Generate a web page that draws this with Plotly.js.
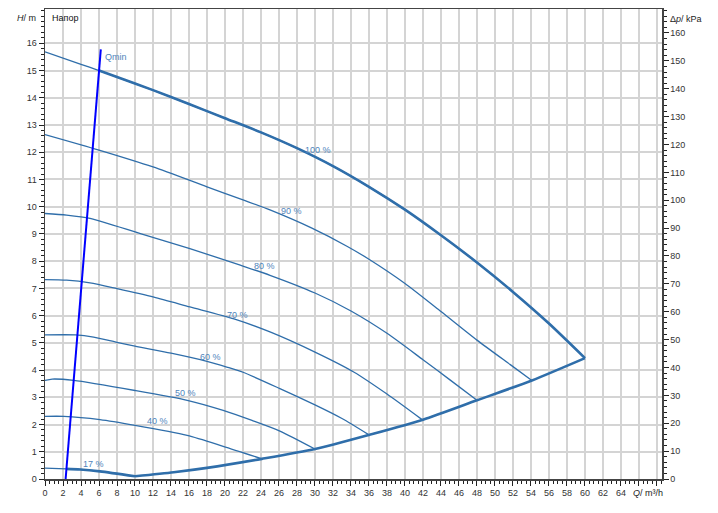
<!DOCTYPE html>
<html>
<head>
<meta charset="utf-8">
<script src="https://cdn.plot.ly/plotly-3.0.1.min.js"></script>
<style>html,body{margin:0;padding:0;background:#fff;}#chart{width:718px;height:513px;}</style>
</head>
<body>
<div id="chart"></div>
<script>
// ---- data ----
const q100 = [0, 4, 6, 8, 12, 16, 20, 24, 28, 32, 36, 40, 44, 48, 52, 56, 60];
const h100 = [15.69, 15.23, 15.0, 14.76, 14.28, 13.77, 13.25, 12.73, 12.15, 11.49, 10.73, 9.89, 8.95, 7.95, 6.87, 5.71, 4.44];

const q90 = [0, 6, 12, 18, 22, 25, 29.6, 33.6, 36, 40, 44, 48, 51.7, 54.1];
const h90 = [12.65, 12.08, 11.46, 10.73, 10.25, 9.88, 9.22, 8.54, 8.07, 7.18, 6.15, 5.1, 4.2, 3.62];

const q80 = [0, 2.4, 5, 10.6, 16.1, 21.7, 25, 30, 34, 38, 42, 45, 48];
const h80 = [9.75, 9.69, 9.57, 9.01, 8.46, 7.85, 7.48, 6.83, 6.17, 5.35, 4.38, 3.64, 2.89];

const q70 = [0, 2.4, 5, 8, 12.1, 16.1, 21, 25, 30, 34.3, 38, 41.9];
const h70 = [7.32, 7.3, 7.2, 6.99, 6.68, 6.32, 5.88, 5.4, 4.66, 3.93, 3.12, 2.18];

const q60 = [0, 3.4, 5.4, 8, 10, 14, 18, 20.2, 22, 26.1, 30, 33, 36];
const h60 = [5.29, 5.29, 5.21, 5.02, 4.88, 4.62, 4.32, 4.11, 3.92, 3.32, 2.72, 2.22, 1.62];

const q50 = [0, 0.8, 3.2, 10, 15.8, 19.8, 23, 26.1, 30];
const h50 = [3.62, 3.67, 3.62, 3.25, 2.89, 2.52, 2.15, 1.76, 1.1];

const q40 = [0, 2.1, 6.1, 10, 15.8, 19.8, 24.1];
const h40 = [2.30, 2.30, 2.18, 1.97, 1.6, 1.2, 0.74];

const q17 = [0, 2.35, 3.9, 6.1, 10];
const h17 = [0.40, 0.37, 0.35, 0.28, 0.10];

// lower limit curve through the ends of the speed curves
const qMinCurve = [10, 14.3, 18, 24.1, 30, 36, 42, 48, 54.1, 60];
const hMinCurve = [0.10, 0.25, 0.41, 0.74, 1.10, 1.62, 2.18, 2.89, 3.62, 4.44];

// Qmin line
const qQmin = [2.29, 6.2];
const hQmin = [0, 15.78];
const qMinLimit = 2.35; // envelope starts right of Qmin (at 100 % curve: 6)

// curve labels
const curveLabels = ["100 %", "90 %", "80 %", "70 %", "60 %", "50 %", "40 %", "17 %"];
const labelQ = [28.7, 25.96, 23.0, 20.0, 17.0, 14.2, 11.07, 4.03];
const labelH = [12.07, 9.83, 7.82, 6.04, 4.48, 3.17, 2.13, 0.56];

// axis ticks
const xTickVals = [0,2,4,6,8,10,12,14,16,18,20,22,24,26,28,30,32,34,36,38,40,42,44,46,48,50,52,54,56,58,60,62,64,66,68];
const xTickText = xTickVals.map(v => v <= 64 ? String(v) : "");
const yTickVals = [0,1,2,3,4,5,6,7,8,9,10,11,12,13,14,15,16];
const y2TickVals = [0,10,20,30,40,50,60,70,80,90,100,110,120,130,140,150,160];

const xTitle = "<i>Q</i>/ m³/h";
const yTitle = "<i>H</i>/ m";
const y2Title = "Δ<i>p</i>/ kPa";
const headText = "Напор";
const qminText = "Qmin";

// ---- drawing ----
const C = '#2f6eaa';
const CT = '#4f84bb';
const FONT = 'Liberation Sans, Arial, sans-serif';

function line(x, y, w, color) {
  return {x: x, y: y, type: 'scatter', mode: 'lines', line: {color: color || C, width: w, shape: 'spline', smoothing: 0.7},
          hoverinfo: 'skip', showlegend: false};
}
function part(x, y, from) {
  const xs = [], ys = [];
  x.forEach((v, i) => { if (v >= from - 1e-9) { xs.push(v); ys.push(y[i]); } });
  return [xs, ys];
}

const traces = [];
[[q90,h90],[q80,h80],[q70,h70],[q60,h60],[q50,h50],[q40,h40]].forEach(p => traces.push(line(p[0], p[1], 1.3)));
traces.push(line(q100, h100, 1.3));
traces.push(line(q17, h17, 1.3));
const p100 = part(q100, h100, 6);
traces.push(line(p100[0], p100[1], 2.6));
const p17 = part(q17, h17, qMinLimit);
traces.push(line(p17[0], p17[1], 2.6));
traces.push(line(qMinCurve, hMinCurve, 2.6));
traces.push({x: qQmin, y: hQmin, type: 'scatter', mode: 'lines', line: {color: '#0000ff', width: 2}, hoverinfo: 'skip', showlegend: false});
// dummy trace for right axis
traces.push({x: [0], y: [0], yaxis: 'y2', type: 'scatter', mode: 'markers', marker: {opacity: 0}, hoverinfo: 'skip', showlegend: false});

const annotations = [];
curveLabels.forEach((t, i) => annotations.push({x: labelQ[i], y: labelH[i], xref: 'x', yref: 'y', text: t, showarrow: false,
  xanchor: 'left', yanchor: 'middle', font: {family: FONT, size: 9, color: CT}}));
annotations.push({x: 6.44, y: 15.49, xref: 'x', yref: 'y', text: qminText, showarrow: false, xanchor: 'left', yanchor: 'middle',
  font: {family: FONT, size: 9, color: CT}});
annotations.push({x: 0.5, y: 16.93, xref: 'x', yref: 'y', text: headText, showarrow: false, xanchor: 'left', yanchor: 'middle',
  font: {family: FONT, size: 9, color: '#111'}});
annotations.push({x: 0, y: 16.93, xref: 'paper', yref: 'y', text: yTitle, showarrow: false, xanchor: 'right', yanchor: 'middle', xshift: -7,
  font: {family: FONT, size: 9, color: '#222'}});
annotations.push({x: 1, y: 165, xref: 'paper', yref: 'y2', text: y2Title, showarrow: false, xanchor: 'left', yanchor: 'middle', xshift: 6,
  font: {family: FONT, size: 9, color: '#222'}});
annotations.push({x: 67, y: 0, xref: 'x', yref: 'paper', text: xTitle, showarrow: false, xanchor: 'center', yanchor: 'top', yshift: -7,
  font: {family: FONT, size: 9, color: '#222'}});

const tickfont = {family: FONT, size: 9, color: '#333'};
const layout = {
  width: 718, height: 513,
  margin: {l: 45, r: 56, t: 9, b: 34, pad: 0},
  paper_bgcolor: '#fff', plot_bgcolor: '#fff',
  showlegend: false,
  font: {family: FONT},
  xaxis: {range: [0, 68.56], tickmode: 'array', tickvals: xTickVals, ticktext: xTickText, ticks: 'outside', ticklen: 5, tickwidth: 1,
          tickcolor: '#222', tickfont: tickfont, showgrid: true, gridcolor: '#d4d4d4', gridwidth: 2, zeroline: false,
          showline: true, linecolor: '#444', linewidth: 1.5, mirror: true, fixedrange: true,
          minor: {tick0: 0, dtick: 0.5, ticks: 'outside', ticklen: 3, tickwidth: 1, tickcolor: '#222', showgrid: false}},
  yaxis: {range: [0, 17.26], tickmode: 'array', tickvals: yTickVals, ticks: 'outside', ticklen: 5, tickwidth: 1,
          tickcolor: '#222', tickfont: tickfont, showgrid: true, gridcolor: '#d4d4d4', gridwidth: 2, zeroline: false,
          showline: true, linecolor: '#444', linewidth: 1.5, fixedrange: true,
          minor: {tick0: 0, dtick: 0.2, ticks: 'outside', ticklen: 3, tickwidth: 1, tickcolor: '#222', showgrid: false}},
  yaxis2: {range: [0, 168.6], overlaying: 'y', side: 'right', tickmode: 'array', tickvals: y2TickVals, ticks: 'outside', ticklen: 5, tickwidth: 1,
          tickcolor: '#222', tickfont: tickfont, showgrid: false, zeroline: false,
          showline: true, linecolor: '#444', linewidth: 1.5, fixedrange: true,
          minor: {tick0: 0, dtick: 2, ticks: 'outside', ticklen: 3, tickwidth: 1, tickcolor: '#222', showgrid: false}},
  annotations: annotations
};
Plotly.newPlot('chart', traces, layout, {staticPlot: true, displayModeBar: false});
</script>
</body>
</html>
